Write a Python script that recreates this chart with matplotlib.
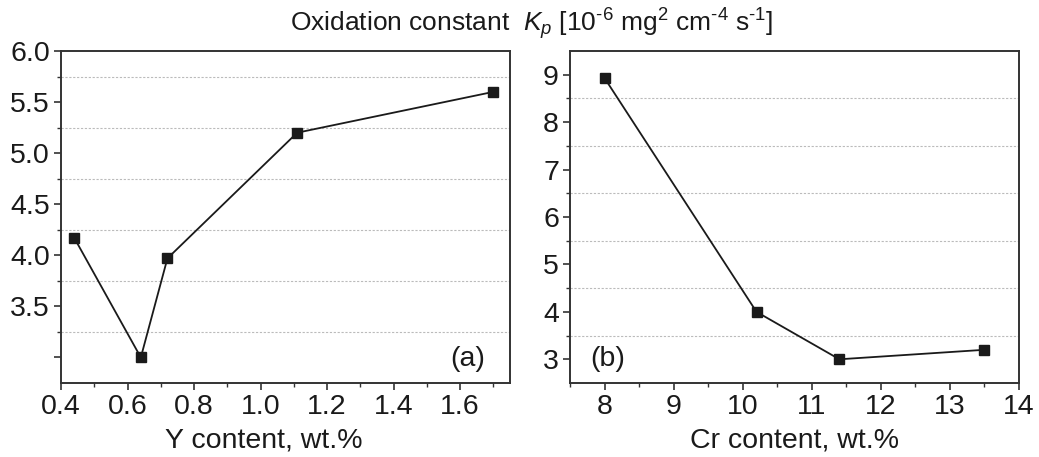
import matplotlib
matplotlib.use("Agg")
import matplotlib.pyplot as plt
import numpy as np

plt.rcParams['font.family'] = ['Liberation Sans', 'DejaVu Sans']
plt.rcParams['mathtext.fontset'] = 'custom'
plt.rcParams['mathtext.rm'] = 'Liberation Sans'
plt.rcParams['mathtext.it'] = 'Liberation Sans:italic'

# Data
y_content = [0.44, 0.64, 0.72, 1.11, 1.70]
kp_y = [4.17, 3.00, 3.97, 5.20, 5.60]
cr_content = [8.0, 10.2, 11.4, 13.5]
kp_cr = [8.93, 4.00, 3.00, 3.20]

left_yticks = [3.0, 3.5, 4.0, 4.5, 5.0, 5.5, 6.0]
left_yticklabels = ['', '3.5', '4.0', '4.5', '5.0', '5.5', '6.0']
left_xticks = [0.4, 0.6, 0.8, 1.0, 1.2, 1.4, 1.6]
right_xticks = [8, 9, 10, 11, 12, 13, 14]
right_yticks = [3, 4, 5, 6, 7, 8, 9]

fig = plt.figure(figsize=(10.39, 4.57), dpi=100)
W, H = 1039, 457
axL = fig.add_axes([61 / W, (H - 383) / H, 449 / W, 332 / H])
axR = fig.add_axes([570 / W, (H - 383) / H, 449 / W, 332 / H])

spine_c = '#333333'
txt_c = '#1a1a1a'
fs = 20.5

for ax in (axL, axR):
    for s in ax.spines.values():
        s.set_color(spine_c)
        s.set_linewidth(1.4)
    ax.tick_params(which='major', direction='out', length=5, width=1.2, color=spine_c,
                   labelsize=fs, pad=3, labelcolor=txt_c)
    ax.tick_params(which='minor', direction='out', length=3, width=1.0, color=spine_c)
    ax.grid(which='minor', axis='y', linestyle=(0, (2, 1.5)), color='#bbbbbb', linewidth=0.8)
    ax.set_axisbelow(True)

# Left panel
axL.plot(y_content, kp_y, color=txt_c, lw=1.3, marker='s', ms=7, mfc=txt_c, mec=txt_c)
axL.set_xlim(0.4, 1.75)
axL.set_ylim(2.75, 6.0)
axL.set_xticks(left_xticks)
axL.set_xticklabels([f'{v:.1f}' for v in left_xticks])
axL.set_xticks(np.arange(0.5, 1.75, 0.2), minor=True)
axL.set_yticks(left_yticks)
axL.set_yticklabels(left_yticklabels)
axL.set_yticks(np.arange(3.25, 6.0, 0.5), minor=True)
axL.set_xlabel('Y content, wt.%', fontsize=fs, color=txt_c)
axL.xaxis.set_label_coords(0.452, -0.133)
axL.text(0.944, 0.072, '(a)', transform=axL.transAxes, ha='right', va='center', fontsize=fs, color=txt_c)

# Right panel
axR.plot(cr_content, kp_cr, color=txt_c, lw=1.3, marker='s', ms=7, mfc=txt_c, mec=txt_c)
axR.set_xlim(7.5, 14)
axR.set_ylim(2.5, 9.5)
axR.set_xticks(right_xticks)
axR.set_xticks(np.arange(7.5, 14, 1.0), minor=True)
axR.set_yticks(right_yticks)
axR.set_yticks(np.arange(3.5, 9.0, 1.0), minor=True)
axR.set_xlabel('Cr content, wt.%', fontsize=fs, color=txt_c)
axR.xaxis.set_label_coords(0.5, -0.133)
axR.text(0.045, 0.072, '(b)', transform=axR.transAxes, ha='left', va='center', fontsize=fs, color=txt_c)

fig.text(532 / W, 1 - 24 / H,
         'Oxidation constant  $K_p$ [10$^{\u2010 6}$ mg$^{2}$ cm$^{\u2010 4}$ s$^{\u2010 1}$]',
         ha='center', va='center', fontsize=19, color=txt_c)

fig.savefig('out.png', dpi=100)
